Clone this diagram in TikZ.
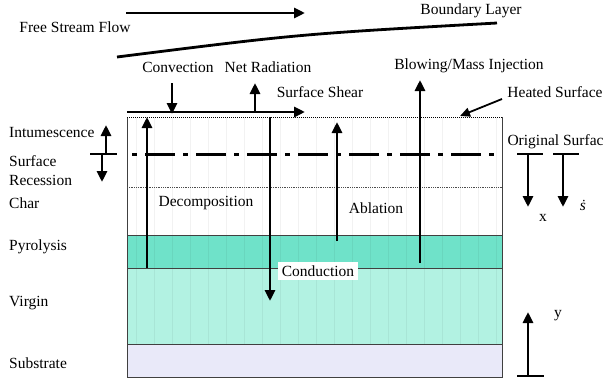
\documentclass[tikz,border=0pt]{standalone}
\usepackage{fontspec}
\setmainfont{Liberation Serif}
\usetikzlibrary{arrows.meta,positioning,calc}
\definecolor{pyro}{HTML}{6FE2C9}
\definecolor{virgin}{HTML}{B2F2E2}
\definecolor{substr}{HTML}{E9E9F9}

\begin{document}
\begin{tikzpicture}[x=1pt,y=-1pt,font=\fontsize{15.5}{18}\selectfont,
    flow/.style={line width=2.8pt,-{Triangle[width=10pt,length=11pt]}},
    bar/.style={line width=2.8pt},
    edge/.style={line width=0.8pt,black!75}]
    \useasboundingbox (0,0) rectangle (603,380);

    % Layers
    \fill[pyro] (127,235) rectangle (502,268);
    \fill[virgin] (127,268) rectangle (502,344);
    \fill[substr] (127,344) rectangle (502,377);
    \foreach \x in {136,154,...,500} {
        \draw[black,opacity=0.05,line width=0.5pt] (\x,118) -- (\x,344);
    }
    \draw[edge] (127,117) -- (127,377) -- (502,377) -- (502,117);
    \draw[edge] (127,235) -- (502,235);
    \draw[edge] (127,268) -- (502,268);
    \draw[edge] (127,344) -- (502,344);
    \draw[densely dotted,line width=1pt] (127,117) -- (502,117);
    \draw[densely dotted,line width=0.8pt,black!70] (127,187) -- (502,187);

    % Outside flow
    \node (free) at (75,27) {Free Stream Flow};
    \node (bl) at (471,11) {Boundary Layer};
    \draw[flow] (126,13) -- (305,13);
    \draw[line width=2.8pt] (117,57) .. controls (300,34) .. (497,23);

    % Surface fluxes
    \node (conv) at (178,67) {Convection};
    \node (netrad) at (268,67) {Net Radiation};
    \node (blow) at (469,66) {Blowing/Mass Injection};
    \node (shear) at (320,92) {Surface Shear};
    \node (heated) at (555,92) {Heated Surface};
    \draw[flow] (127,112) -- (305,112);
    \draw[flow] (172,83) -- (172,114);
    \draw[flow] (255,112) -- (255,83);
    \draw[flow] (420,263) -- (420,80);
    \draw[-{Triangle[width=9pt,length=10pt]},line width=1.8pt] (502,99) -- (460,116);

    % Original surface
    \draw[line width=3pt,dash pattern=on 30pt off 8pt on 5pt off 8pt,dash phase=-14pt] (131,154) -- (500,154);
    \node[anchor=west] (orig) at (504,142) {Original Surfac};
    \draw[bar] (90,154) -- (117,154);
    \draw[flow] (106,154) -- (106,125);
    \draw[flow] (102,154) -- (102,182);
    \draw[bar] (517,154) -- (543,154);
    \draw[bar] (553,154) -- (579,154);
    \draw[flow] (528,154) -- (528,207);
    \draw[flow] (563,154) -- (563,207);
    \node (xlab) at (543,218) {x};
    \node (sdot) at (583,205) {\textit{ṡ}};

    % Side labels
    \foreach \y/\l in {133/Intumescence, 161/Surface, 180/Recession, 203/Char, 247/Pyrolysis, 303/Virgin, 363/Substrate} {
        \node[anchor=west,inner sep=0pt] at (9,\y) {\l};
    }

    % Inner processes
    \draw[flow] (147,268) -- (147,117);
    \draw[flow] (270,117) -- (270,301);
    \draw[flow] (337,241) -- (337,122);
    \node (decomp) at (206,203) {Decomposition};
    \node (abl) at (376,208) {Ablation};
    \node[fill=white,inner sep=4pt] (cond) at (318,271) {Conduction};

    % y axis
    \draw[bar] (517,376) -- (544,376);
    \draw[flow] (528,376) -- (528,312);
    \node (ylab) at (558,316) {y};
\end{tikzpicture}
\end{document}
